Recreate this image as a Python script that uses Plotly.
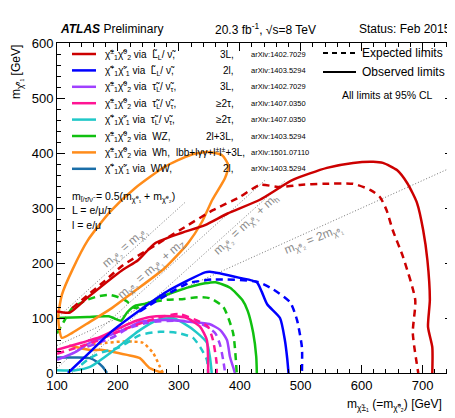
import plotly.graph_objects as go

# ---------------- data (GeV) ----------------
red_obs_x = [100, 121, 151, 207, 233, 261, 305, 343, 380, 433, 487, 543, 586, 619, 635, 658, 675, 691, 701, 708, 712, 709, 716, 716]
red_obs_y = [112, 110, 138, 187, 205, 236, 255, 269, 290, 315, 351, 373, 382, 384, 382, 369, 345, 309, 260, 205, 133, 84, 47, 0]
red_exp_x = [125, 141, 179, 207, 261, 302, 356, 400, 433, 466, 499, 537, 586, 614, 630, 641, 651, 668, 688, 684, 693]
red_exp_y = [118, 133, 168, 195, 232, 260, 296, 320, 342, 338, 342, 344, 344, 333, 320, 296, 260, 211, 133, 73, 0]

blue_obs_x = [118, 154, 187, 236, 285, 343, 351, 400, 428, 436, 445, 466, 474, 478, 480]
blue_obs_y = [0, 38, 73, 114, 151, 183, 184, 173, 165, 148, 125, 100, 60, 25, 0]
blue_exp_x = [236, 280, 315, 356, 428, 455, 483, 494, 502, 502]
blue_exp_y = [112, 142, 163, 170, 166, 152, 128, 96, 47, 0]

purple_obs_x = [100, 130, 154, 187, 220, 236, 264, 290, 318, 350, 368, 379, 384, 389, 392]
purple_obs_y = [24, 38, 55, 69, 84, 93, 96, 96, 93, 89, 78, 60, 29, 11, 0]
purple_exp_x = [150, 192, 215, 250, 300, 330, 346, 360, 368, 373, 376]
purple_exp_y = [48, 65, 80, 92, 95, 92, 84, 72, 50, 22, 0]

pink_obs_x = [100, 140, 170, 203, 230, 253, 290, 313, 335, 346, 348, 348]
pink_obs_y = [42, 55, 65, 82, 95, 102, 103, 100, 84, 60, 24, 0]
pink_exp_x = [100, 165, 200, 264, 300, 335, 348, 356, 362, 362]
pink_exp_y = [35, 58, 75, 100, 107, 93, 84, 60, 18, 0]

cyan_obs_x = [100, 130, 154, 187, 236, 264, 290, 307, 330, 346, 351, 354]
cyan_obs_y = [5, 5, 11, 36, 78, 96, 100, 91, 73, 55, 29, 0]
cyan_exp_x = [140, 154, 175, 203, 236, 269, 297, 323, 335, 346, 348]
cyan_exp_y = [15, 27, 38, 47, 69, 75, 73, 64, 47, 24, 0]

green_obs_x = [100, 150, 185, 205, 215, 228, 250, 275, 302, 343, 360, 384, 404, 413, 422, 427, 428]
green_obs_y = [100, 102, 103, 95, 110, 122, 127, 140, 151, 163, 165, 155, 133, 113, 73, 30, 0]
green_exp_x = [100, 112, 125, 149, 170, 187, 205, 215, 228, 250, 280, 302, 335, 351, 373, 389, 395]
green_exp_y = [72, 95, 118, 133, 140, 142, 136, 130, 118, 128, 133, 134, 138, 136, 120, 73, 0]

orange_obs_x = [108, 102, 108, 125, 151, 187, 228, 277, 318, 346, 371, 381, 376, 355, 338, 315, 277, 225, 190, 154, 125, 108]
orange_obs_y = [64, 100, 142, 187, 242, 293, 336, 375, 396, 402, 396, 378, 355, 315, 275, 236, 191, 147, 118, 93, 73, 64]
orange_low_x = [120, 154, 175, 215, 236, 252, 274]
orange_low_y = [50, 42, 42, 33, 27, 9, 0]
orange_exp_x = [140, 160, 182, 203, 225, 241, 258, 269, 274]
orange_exp_y = [45, 52, 55, 57, 57, 55, 36, 11, 0]

ww_obs_x = [100, 130, 154, 166, 175, 182]
ww_obs_y = [28, 28, 27, 20, 11, 0]

# kinematic reference lines
eq_x, eq_y = [100, 310], [100, 310]
mz_x, mz_y = [100, 441], [9, 350]
mh_x, mh_y = [125, 475], [0, 350]
two_x, two_y = [100, 750], [50, 375]

x_ticks = [100, 200, 300, 400, 500, 600, 700]
y_ticks = [0, 100, 200, 300, 400, 500, 600]

legend_rows = [
    ("#CC0000", "χ̃<sup>±</sup><sub>1</sub>χ̃<sup>0</sup><sub>2</sub> via  L̃<sub>L</sub>/ ν̃,", "3L,", "arXiv:1402.7029"),
    ("#0000FF", "χ̃<sup>+</sup><sub>1</sub>χ̃<sup>-</sup><sub>1</sub> via  L̃<sub>L</sub>/ ν̃,", "2l,", "arXiv:1403.5294"),
    ("#A040FF", "χ̃<sup>±</sup><sub>1</sub>χ̃<sup>0</sup><sub>2</sub> via  τ̃<sub>L</sub>/ ν̃<sub>τ</sub>,", "3L,", "arXiv:1402.7029"),
    ("#FF1493", "χ̃<sup>±</sup><sub>1</sub>χ̃<sup>0</sup><sub>2</sub> via  τ̃<sub>L</sub>/ ν̃<sub>τ</sub>,", "≥2τ,", "arXiv:1407.0350"),
    ("#20C8C8", "χ̃<sup>+</sup><sub>1</sub>χ̃<sup>-</sup><sub>1</sub> via  τ̃<sub>L</sub>/ ν̃<sub>τ</sub>,", "≥2τ,", "arXiv:1407.0350"),
    ("#10C010", "χ̃<sup>±</sup><sub>1</sub>χ̃<sup>0</sup><sub>2</sub> via  WZ,", "2l+3L,", "arXiv:1403.5294"),
    ("#FF8C1A", "χ̃<sup>±</sup><sub>1</sub>χ̃<sup>0</sup><sub>2</sub> via  Wh,", "lbb+lγγ+l<sup>±</sup>l<sup>±</sup>+3L,", "arXiv:1501.07110"),
    ("#1A6EA8", "χ̃<sup>+</sup><sub>1</sub>χ̃<sup>-</sup><sub>1</sub> via  WW,", "2l,", "arXiv:1403.5294"),
]

FONT = "Liberation Sans, Arial, sans-serif"
DASH = "7px,5px"

fig = go.Figure()

def add(x, y, color, dash="solid", width=2.5):
    fig.add_trace(go.Scatter(x=x, y=y, mode="lines", showlegend=False, hoverinfo="skip",
                             line=dict(color=color, width=width, dash=dash, shape="spline", smoothing=0.6)))

# reference lines
for lx, ly in [(eq_x, eq_y), (mz_x, mz_y), (mh_x, mh_y), (two_x, two_y)]:
    fig.add_trace(go.Scatter(x=lx, y=ly, mode="lines", showlegend=False, hoverinfo="skip",
                             line=dict(color="#777777", width=1, dash="1px,2px")))

add(ww_obs_x, ww_obs_y, "#1A6EA8")
add(orange_exp_x, orange_exp_y, "#FF8C1A", dash="3px,3px")
add(orange_low_x, orange_low_y, "#FF8C1A")
add(cyan_exp_x, cyan_exp_y, "#20C8C8", dash=DASH)
add(cyan_obs_x, cyan_obs_y, "#20C8C8")
add(purple_exp_x, purple_exp_y, "#A040FF", dash=DASH)
add(purple_obs_x, purple_obs_y, "#A040FF")
add(pink_exp_x, pink_exp_y, "#FF1493", dash=DASH)
add(pink_obs_x, pink_obs_y, "#FF1493")
add(green_exp_x, green_exp_y, "#10C010", dash=DASH)
add(green_obs_x, green_obs_y, "#10C010")
add(blue_exp_x, blue_exp_y, "#0000FF", dash=DASH)
add(blue_obs_x, blue_obs_y, "#0000FF")
add(orange_obs_x, orange_obs_y, "#FF8C1A")
add(red_exp_x, red_exp_y, "#CC0000", dash=DASH)
add(red_obs_x, red_obs_y, "#CC0000")

# page pixel -> paper helpers (plot area spans page x 57..453, y 43..373)
def PX(px):
    return (px - 57) / 396.0

def PY(py):
    return (373 - py) / 330.0

ann = []
shapes = []

def text(px, py, s, size=11, xanchor="left", color="black", angle=0):
    ann.append(dict(x=PX(px), y=PY(py), xref="paper", yref="paper", text=s, showarrow=False,
                    xanchor=xanchor, yanchor="middle", textangle=angle,
                    font=dict(family=FONT, size=size, color=color)))

# header
text(58, 29, "<b><i>ATLAS</i></b> Preliminary", size=12)
text(213, 29, "20.3 fb<sup>-1</sup>, √s=8 TeV", size=12)
text(357, 29, "Status: Feb 2015", size=12)

# legend rows
row_y = [54, 70.4, 86.8, 103.2, 119.6, 136, 152.4, 168.8]
for (col, lab, chan, ref), yy in zip(legend_rows, row_y):
    shapes.append(dict(type="line", xref="paper", yref="paper", x0=PX(72), x1=PX(96),
                       y0=PY(yy), y1=PY(yy), line=dict(color=col, width=2.5)))
    text(103, yy, lab, size=10)
    if "lbb" in chan:
        text(174, yy, chan, size=10)
    else:
        text(236, yy, chan, size=10, xanchor="right")
    text(249, yy, ref, size=7.5)

text(70, 197, "m<sub>l̃/τ̃/ν̃</sub> = 0.5(m<sub>χ̃⁰₁</sub> + m<sub>χ̃⁰₂</sub>)", size=10.5)
text(70, 210, "L = e/μ/τ", size=10.5)
text(70, 225, "l = e/μ", size=10.5)

# right legend
shapes.append(dict(type="line", xref="paper", yref="paper", x0=PX(323), x1=PX(356),
                   y0=PY(53), y1=PY(53), line=dict(color="black", width=2, dash="5px,4px")))
shapes.append(dict(type="line", xref="paper", yref="paper", x0=PX(323), x1=PX(356),
                   y0=PY(72), y1=PY(72), line=dict(color="black", width=2)))
text(360, 53, "Expected limits", size=12)
text(360, 72, "Observed limits", size=12)
text(340, 95, "All limits at 95% CL", size=10.5)

# kinematic labels
G = "#8A8A8A"
text(125, 248, "m<sub>χ̃⁰₂</sub> = m<sub>χ̃⁰₁</sub>", size=12, xanchor="center", color=G, angle=-41)
text(151, 270, "m<sub>χ̃⁰₂</sub> = m<sub>χ̃⁰₁</sub> + m<sub>Z</sub>", size=12, xanchor="center", color=G, angle=-41)
text(246, 225, "m<sub>χ̃⁰₂</sub> = m<sub>χ̃⁰₁</sub> + m<sub>h</sub>", size=12, xanchor="center", color=G, angle=-43)
text(313, 240, "m<sub>χ̃⁰₂</sub> = 2m<sub>χ̃⁰₁</sub>", size=12, xanchor="center", color=G, angle=-22)

# axis titles
text(444, 405, "m<sub>χ̃±₁</sub> (=m<sub>χ̃⁰₂</sub>) [GeV]", size=12, xanchor="right")
ann.append(dict(x=PX(17), y=PY(72), xref="paper", yref="paper", text="m<sub>χ̃⁰₁</sub> [GeV]",
                showarrow=False, textangle=-90, xanchor="center", yanchor="middle",
                font=dict(family=FONT, size=12, color="black")))

axis_common = dict(showline=True, linecolor="black", linewidth=1, mirror="allticks",
                   ticks="inside", ticklen=8, tickwidth=1, tickcolor="black",
                   showgrid=False, zeroline=False,
                   tickfont=dict(family=FONT, size=13, color="black"),
                   minor=dict(ticks="inside", ticklen=4, tickcolor="black", dtick=20, showgrid=False))

# the page body adds an 8px margin, so the figure is 8px smaller to keep the
# plot frame at page x 57..453, y 43..373
fig.update_layout(
    width=447, height=410,
    margin=dict(l=49, r=2, t=35, b=45),
    paper_bgcolor="white", plot_bgcolor="white",
    xaxis=dict(range=[100, 750], tickvals=x_ticks, ticktext=[str(v) for v in x_ticks], **axis_common),
    yaxis=dict(range=[0, 600], tickvals=y_ticks, ticktext=[str(v) for v in y_ticks], **axis_common),
    annotations=ann, shapes=shapes, showlegend=False,
)

fig.write_html("out.html")
